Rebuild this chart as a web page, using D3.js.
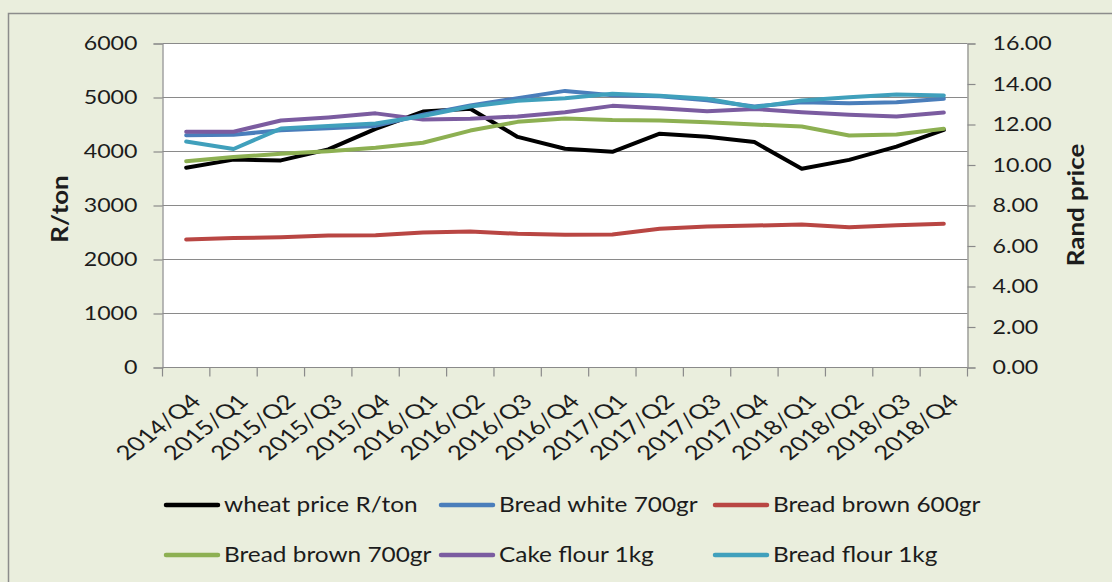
<!DOCTYPE html>
<html>
<head>
<meta charset="utf-8">
<script src="https://cdn.jsdelivr.net/npm/d3@7"></script>
<style>
  html, body { margin: 0; padding: 0; background: #eaeedd; }
  svg { display: block; }
  text { font-family: Lato, "Open Sans", sans-serif; fill: #1c1c1c; }
</style>
</head>
<body>
<svg id="chart" width="1112" height="582"></svg>
<script>
// Quarterly periods
const categories = ["2014/Q4","2015/Q1","2015/Q2","2015/Q3","2015/Q4",
  "2016/Q1","2016/Q2","2016/Q3","2016/Q4","2017/Q1","2017/Q2","2017/Q3",
  "2017/Q4","2018/Q1","2018/Q2","2018/Q3","2018/Q4"];

// Wheat price, R/ton (left axis)
const wheatPrice = [3700, 3850, 3835, 4040, 4420, 4740, 4790, 4270, 4050, 3995, 4330, 4275, 4175, 3680, 3845, 4090, 4400];

// Retail prices in Rand (right axis)
const breadWhite700 = [11.47, 11.49, 11.72, 11.82, 11.93, 12.48, 12.94, 13.30, 13.66, 13.45, 13.39, 13.20, 12.89, 13.10, 13.05, 13.10, 13.27];
const breadBrown600 = [6.32, 6.39, 6.43, 6.52, 6.53, 6.67, 6.72, 6.60, 6.55, 6.57, 6.85, 6.96, 7.01, 7.06, 6.93, 7.03, 7.10];
const breadBrown700 = [10.19, 10.39, 10.55, 10.68, 10.85, 11.10, 11.70, 12.13, 12.30, 12.22, 12.20, 12.11, 12.00, 11.90, 11.46, 11.51, 11.79];
const cakeFlour1kg  = [11.64, 11.64, 12.20, 12.35, 12.55, 12.25, 12.28, 12.40, 12.60, 12.92, 12.80, 12.66, 12.77, 12.61, 12.48, 12.40, 12.59];
const breadFlour1kg = [11.16, 10.79, 11.80, 11.92, 12.05, 12.42, 12.89, 13.17, 13.30, 13.52, 13.42, 13.27, 12.85, 13.19, 13.35, 13.48, 13.43];

// Tick labels
const leftTicks = [0, 1000, 2000, 3000, 4000, 5000, 6000];
const rightTicks = [0, 2, 4, 6, 8, 10, 12, 14, 16];

const series = [
  { name: "wheat price R/ton", values: wheatPrice,    axis: "left",  color: "#000000" },
  { name: "Bread white 700gr", values: breadWhite700, axis: "right", color: "#4a7ebb" },
  { name: "Bread brown 600gr", values: breadBrown600, axis: "right", color: "#b94643" },
  { name: "Bread brown 700gr", values: breadBrown700, axis: "right", color: "#8db052" },
  { name: "Cake flour 1kg",    values: cakeFlour1kg,  axis: "right", color: "#7b5ca0" },
  { name: "Bread flour 1kg",   values: breadFlour1kg, axis: "right", color: "#40a0bc" }
];

const svg = d3.select("#chart");
const plot = { left: 162.5, right: 967.5, top: 43.5, bottom: 367.5 };
const gridColor = "#8a8a8a";

// Outer chart frame
svg.append("rect")
  .attr("x", 8.5).attr("y", 13.5)
  .attr("width", 1120).attr("height", 600)
  .attr("fill", "#eaeedd").attr("stroke", "#8c8c8c").attr("stroke-width", 1.5);

// Plot area
svg.append("rect")
  .attr("x", plot.left).attr("y", plot.top)
  .attr("width", plot.right - plot.left).attr("height", plot.bottom - plot.top)
  .attr("fill", "#ffffff");

const x = d3.scaleBand().domain(categories).range([plot.left, plot.right]).padding(0);
const yL = d3.scaleLinear().domain([0, 6000]).range([plot.bottom, plot.top]);
const yR = d3.scaleLinear().domain([0, 16]).range([plot.bottom, plot.top]);
const cx = c => x(c) + x.bandwidth() / 2;

// Horizontal gridlines at left-axis ticks
svg.append("g")
  .selectAll("line")
  .data(leftTicks.filter(v => v > 0))
  .join("line")
  .attr("x1", plot.left).attr("x2", plot.right)
  .attr("y1", d => yL(d)).attr("y2", d => yL(d))
  .attr("stroke", gridColor).attr("stroke-width", 1);

// Left axis
const gLeft = svg.append("g")
  .attr("transform", `translate(${plot.left},0)`)
  .call(d3.axisLeft(yL).tickValues(leftTicks).tickSize(9).tickPadding(16).tickFormat(d3.format("d")));
// Right axis
const gRight = svg.append("g")
  .attr("transform", `translate(${plot.right},0)`)
  .call(d3.axisRight(yR).tickValues(rightTicks).tickSize(8).tickPadding(17).tickFormat(d3.format(".2f")));

[[gLeft, -25], [gRight, 25]].forEach(([g, off]) => {
  g.select(".domain").attr("stroke", gridColor).attr("stroke-width", 1.2);
  g.selectAll(".tick line").attr("stroke", gridColor).attr("stroke-width", 1.2);
  g.selectAll(".tick text")
    .attr("x", 0)
    .attr("transform", `translate(${off},0) scale(1.16,1)`)
    .attr("font-size", 20).attr("fill", "#1c1c1c")
    .attr("font-family", "Lato, 'Open Sans', sans-serif");
});

// Bottom axis: ticks between categories, rotated labels
const gBottom = svg.append("g");
gBottom.append("line")
  .attr("x1", plot.left).attr("x2", plot.right)
  .attr("y1", plot.bottom).attr("y2", plot.bottom)
  .attr("stroke", gridColor).attr("stroke-width", 1.2);
const boundaries = categories.map(c => x(c)).concat([plot.right]);
gBottom.selectAll("line.tk")
  .data(boundaries)
  .join("line")
  .attr("class", "tk")
  .attr("x1", d => d).attr("x2", d => d)
  .attr("y1", plot.bottom).attr("y2", plot.bottom + 9)
  .attr("stroke", gridColor).attr("stroke-width", 1.2);
gBottom.selectAll("text")
  .data(categories)
  .join("text")
  .attr("transform", d => `translate(${cx(d) + 3},${plot.bottom + 25}) scale(1.29,1) rotate(-45)`)
  .attr("text-anchor", "end")
  .attr("dy", "0.72em")
  .attr("font-size", 20)
  .text(d => d);

// Axis titles
svg.append("text")
  .attr("transform", "translate(68,209) scale(0.85,1) rotate(-90)")
  .attr("text-anchor", "middle")
  .attr("font-size", 26).attr("font-weight", "bold")
  .text("R/ton");
svg.append("text")
  .attr("transform", "translate(1084,205) scale(0.85,1) rotate(-90)")
  .attr("text-anchor", "middle")
  .attr("font-size", 26).attr("font-weight", "bold")
  .text("Rand price");

// Lines
const lineFor = s => d3.line()
  .x((d, i) => cx(categories[i]))
  .y(d => (s.axis === "left" ? yL : yR)(d));

svg.append("g")
  .selectAll("path")
  .data(series)
  .join("path")
  .attr("d", s => lineFor(s)(s.values))
  .attr("fill", "none")
  .attr("stroke", s => s.color)
  .attr("stroke-width", 4)
  .attr("stroke-linejoin", "round")
  .attr("stroke-linecap", "round");

// Legend: two rows of three
const legendX = [166, 441, 715];
const legendY = [505, 555];
const legend = svg.append("g")
  .selectAll("g")
  .data(series)
  .join("g")
  .attr("transform", (s, i) => `translate(${legendX[i % 3]},${legendY[Math.floor(i / 3)]})`);
legend.append("line")
  .attr("x1", 0).attr("x2", 52)
  .attr("y1", 0).attr("y2", 0)
  .attr("stroke", s => s.color)
  .attr("stroke-width", 4.5)
  .attr("stroke-linecap", "round");
legend.append("text")
  .attr("transform", "translate(58,0) scale(1.19,1)")
  .attr("dy", "0.35em")
  .attr("font-size", 20.5)
  .text(s => s.name);
</script>
</body>
</html>
